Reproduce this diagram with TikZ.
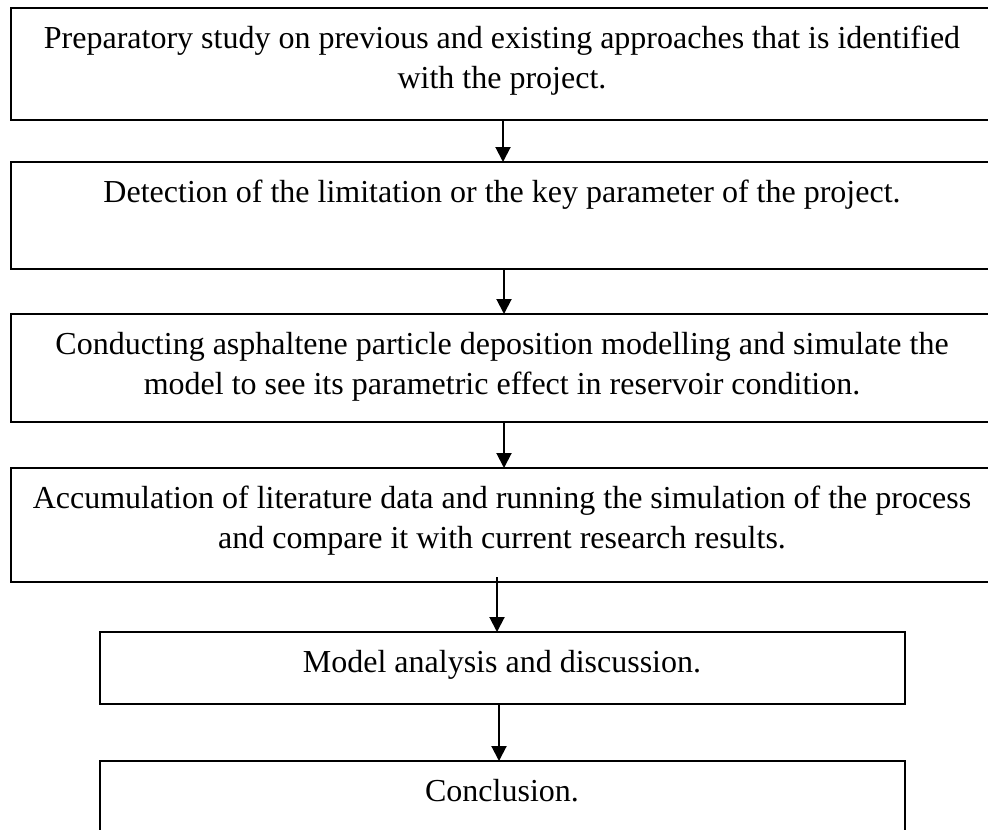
\documentclass[tikz,border=0pt]{standalone}
\usepackage{fontspec}
\setmainfont{Liberation Serif}
\usetikzlibrary{arrows.meta}
\begin{document}
\begin{tikzpicture}[x=1pt,y=-1pt,
  frame/.style={shape=rectangle,inner sep=0pt,outer sep=0pt,anchor=north west},
  edge/.style={line width=2pt,line join=miter},
  txt/.style={anchor=north,inner sep=0pt,align=center,font=\fontsize{32}{40}\selectfont},
  arr/.style={line width=2pt,-{Triangle[width=15pt,length=15pt]}}]
\useasboundingbox (0,0) rectangle (988,830);
% box frames (named)
\node[frame,minimum width=977pt,minimum height=112pt] (b1) at (11,8) {};
\node[frame,minimum width=977pt,minimum height=107pt] (b2) at (11,162) {};
\node[frame,minimum width=977pt,minimum height=108pt] (b3) at (11,314) {};
\node[frame,minimum width=977pt,minimum height=114pt] (b4) at (11,468) {};
\node[frame,minimum width=805pt,minimum height=72pt] (b5) at (100,632) {};
\node[frame,minimum width=805pt,minimum height=69pt] (b6) at (100,761) {};
% borders: the right side of boxes 1-4 and the bottom of box 6 run off the picture
\foreach \b in {b1,b2,b3,b4}
  \draw[edge] (\b.north east) -- (\b.north west) -- (\b.south west) -- (\b.south east);
\draw[edge,line width=2.5pt] (b5.north west) rectangle (b5.south east);
\draw[edge,line width=2.5pt] (b6.south west) -- (b6.north west) -- (b6.north east) -- (b6.south east);
% texts
\node[txt] (t1) at (502,26) {Preparatory study on previous and existing approaches that is identified\\with the project.};
\node[txt] (t2) at (502,180) {Detection of the limitation or the key parameter of the project.};
\node[txt] (t3) at (502,332) {Conducting asphaltene particle deposition modelling and simulate the\\model to see its parametric effect in reservoir condition.};
\node[txt] (t4) at (502,486) {Accumulation of literature data and running the simulation of the process\\and compare it with current research results.};
\node[txt] (t5) at (502,650) {Model analysis and discussion.};
\node[txt] (t6) at (502,779) {Conclusion.};
% arrow columns
\coordinate (x1) at (503,0);
\coordinate (x2) at (504,0);
\coordinate (x3) at (504,0);
\coordinate (x4) at (497,0);
\coordinate (x5) at (499,0);
\draw[arr] (b1.south -| x1) -- (b2.north -| x1);
\draw[arr] (b2.south -| x2) -- (b3.north -| x2);
\draw[arr] (b3.south -| x3) -- (b4.north -| x3);
\draw[arr] ([yshift=5pt]b4.south -| x4) -- (b5.north -| x4);
\draw[arr] (b5.south -| x5) -- (b6.north -| x5);
\end{tikzpicture}
\end{document}
